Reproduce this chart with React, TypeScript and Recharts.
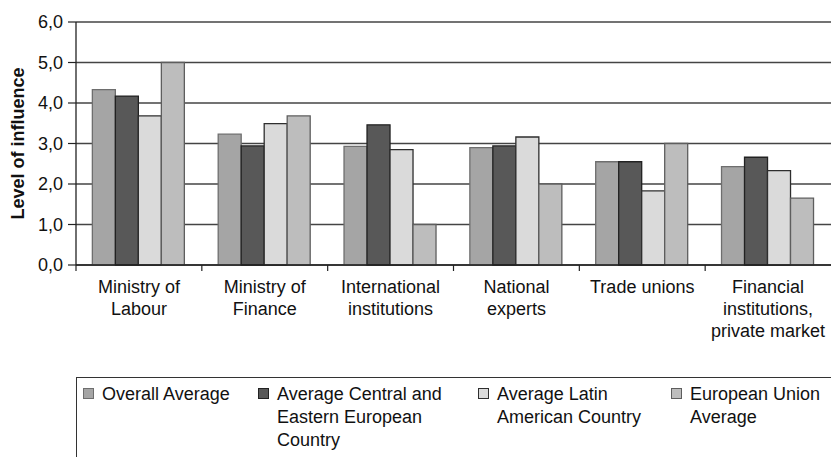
import { Bar, BarChart, CartesianGrid, Label, XAxis, YAxis } from "recharts";

const categories = [
  "Ministry of Labour",
  "Ministry of Finance",
  "International institutions",
  "National experts",
  "Trade unions",
  "Financial institutions, private market",
];

// how each category name breaks onto lines under the axis
const categoryLines = [
  ["Ministry of", "Labour"],
  ["Ministry of", "Finance"],
  ["International", "institutions"],
  ["National", "experts"],
  ["Trade unions"],
  ["Financial", "institutions,", "private market"],
];

const overallAverage = [4.33, 3.23, 2.93, 2.9, 2.55, 2.43];
const ceeAverage = [4.17, 2.94, 3.46, 2.94, 2.55, 2.66];
const latinAverage = [3.68, 3.49, 2.85, 3.16, 1.83, 2.33];
const euAverage = [5.0, 3.68, 1.0, 2.0, 3.0, 1.65];

const yTicks = [0, 1, 2, 3, 4, 5, 6];

const series = [
  { key: "overall", name: "Overall Average", fill: "#a5a5a5", stroke: "#6e6e6e", width: 150 },
  { key: "cee", name: "Average Central and Eastern European Country", fill: "#585858", stroke: "#222222", width: 175 },
  { key: "latin", name: "Average Latin American Country", fill: "#dadada", stroke: "#2e2e2e", width: 160 },
  { key: "eu", name: "European Union Average", fill: "#bdbdbd", stroke: "#5e5e5e", width: 150 },
];

const data = categories.map((name, i) => ({
  name,
  overall: overallAverage[i],
  cee: ceeAverage[i],
  latin: latinAverage[i],
  eu: euAverage[i],
}));

const WIDTH = 831;
const HEIGHT = 457;
const PLOT_LEFT = 76;
const FONT = "'Liberation Sans', Arial, sans-serif";

const bandWidth = (WIDTH - PLOT_LEFT) / categories.length;

function CategoryTick(props: any) {
  const { x, y, index } = props;
  const lines = categoryLines[index] || [];
  const left = x - bandWidth / 2;
  return (
    <g>
      <line x1={left} y1={y} x2={left} y2={y + 6} stroke="#222" strokeWidth={1.2} />
      <text x={x} y={y + 28} textAnchor="middle" fontSize={18} fontFamily={FONT} fill="#111">
        {lines.map((line, i) => (
          <tspan key={i} x={x} dy={i === 0 ? 0 : 22}>
            {line}
          </tspan>
        ))}
      </text>
    </g>
  );
}

function AxisTitle(props: any) {
  const { viewBox } = props;
  const cy = viewBox.y + viewBox.height / 2;
  return (
    <text
      x={24}
      y={cy}
      transform={`rotate(-90, 24, ${cy})`}
      textAnchor="middle"
      fontSize={18}
      fontWeight="bold"
      fontFamily={FONT}
      fill="#111"
    >
      Level of influence
    </text>
  );
}

const legendLeft = [83, 258, 478, 671];

export default function App() {
  return (
    <div
      style={{
        position: "absolute",
        left: 0,
        top: 0,
        width: WIDTH,
        height: HEIGHT,
        overflow: "hidden",
        background: "#fff",
        fontFamily: FONT,
      }}
    >
      <BarChart
        width={WIDTH}
        height={HEIGHT}
        data={data}
        margin={{ top: 22, right: 0, left: 0, bottom: 132 }}
        barCategoryGap="13%"
        barGap={0}
      >
        <CartesianGrid vertical={false} stroke="#444" strokeWidth={1.3} />
        <XAxis
          dataKey="name"
          height={60}
          interval={0}
          tickLine={false}
          tickSize={0}
          tickMargin={0}
          axisLine={{ stroke: "#222", strokeWidth: 1.3 }}
          tick={<CategoryTick />}
        />
        <YAxis
          width={PLOT_LEFT}
          domain={[0, 6]}
          ticks={yTicks}
          interval={0}
          tickSize={8}
          tickMargin={5}
          tickFormatter={(v: number) => v.toFixed(1).replace(".", ",")}
          axisLine={{ stroke: "#222", strokeWidth: 1.3 }}
          tickLine={{ stroke: "#222", strokeWidth: 1.2 }}
          tick={{ fontSize: 18, fontFamily: FONT, fill: "#111" }}
        >
          <Label content={<AxisTitle />} />
        </YAxis>
        {series.map((s) => (
          <Bar
            key={s.key}
            dataKey={s.key}
            name={s.name}
            fill={s.fill}
            stroke={s.stroke}
            strokeWidth={1.3}
            isAnimationActive={false}
          />
        ))}
      </BarChart>

      {/* legend frame: only the top and left edges fall inside the frame */}
      <div
        style={{
          position: "absolute",
          left: PLOT_LEFT,
          top: 377,
          width: WIDTH,
          height: 200,
          borderTop: "1.5px solid #333",
          borderLeft: "1.5px solid #333",
        }}
      />
      {series.map((s, i) => (
        <div key={s.key}>
          <div
            style={{
              position: "absolute",
              left: legendLeft[i],
              top: 388,
              width: 9,
              height: 9,
              background: s.fill,
              border: `1px solid ${s.stroke}`,
            }}
          />
          <div
            style={{
              position: "absolute",
              left: legendLeft[i] + 19,
              top: 383,
              width: s.width,
              fontSize: 18,
              lineHeight: "23px",
              color: "#111",
            }}
          >
            {s.name}
          </div>
        </div>
      ))}
    </div>
  );
}
